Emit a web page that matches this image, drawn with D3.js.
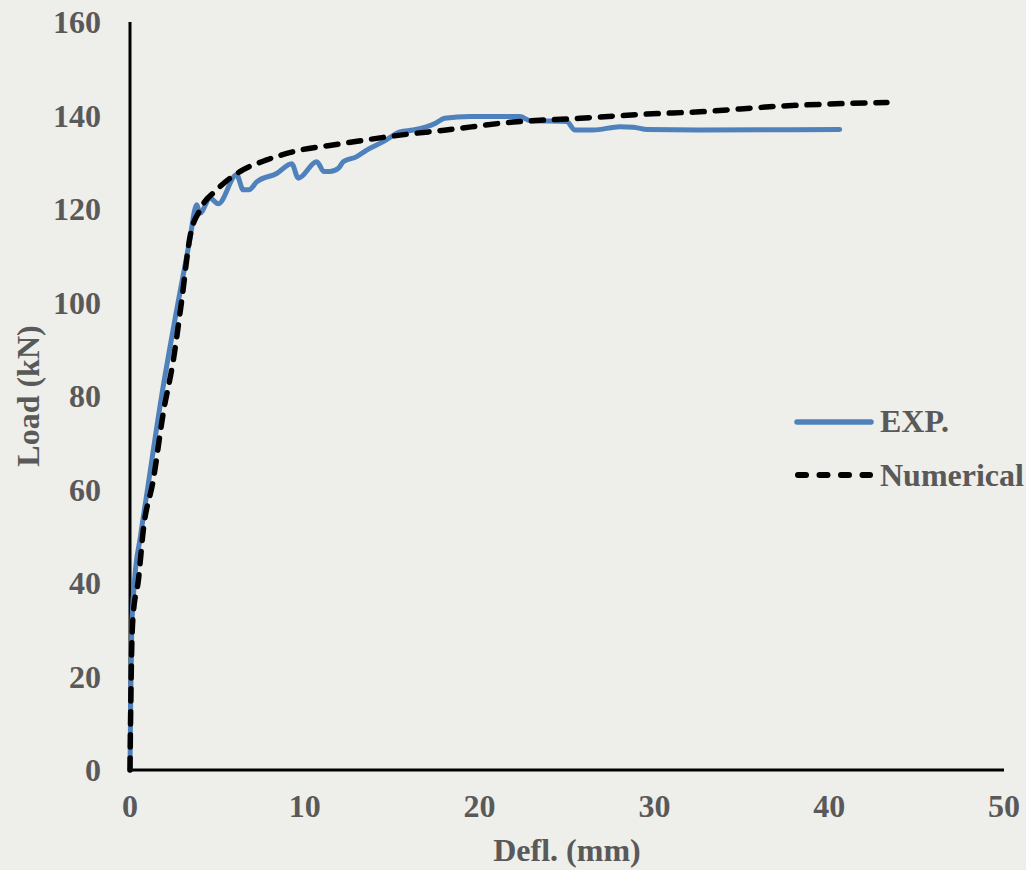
<!DOCTYPE html>
<html>
<head>
<meta charset="utf-8">
<script src="https://cdn.jsdelivr.net/npm/d3@7"></script>
<style>
  html, body { margin: 0; padding: 0; background: #EEEEEA; }
  svg { display: block; }
  text { font-family: "Liberation Serif", "Times New Roman", serif; font-weight: bold; fill: #595959; }
</style>
</head>
<body>
<svg id="chart" width="1026" height="870"></svg>
<script>
// ---- data ----
const xTicks = [0, 10, 20, 30, 40, 50];
const yTicks = [0, 20, 40, 60, 80, 100, 120, 140, 160];
const seriesNames = ["EXP.", "Numerical"];

const expX = [0, 0.04, 0.1, 0.25, 0.6, 1.0, 1.81, 2.75, 3.4, 3.82, 4.0, 4.58, 5.05, 6.1, 6.48, 6.8, 7.25, 8.39, 9.25, 9.63, 10.68, 11.1, 11.44, 11.92, 12.2, 12.97, 13.54, 14.49, 15.45, 16.2, 17.45, 18.0, 19.45, 22.3, 22.9, 24.98, 25.46, 26.5, 28.03, 28.8, 29.6, 32.6, 40.6];
const expY = [0, 15, 30, 40, 50, 60, 80, 100, 113, 120.9, 119.1, 122.3, 121.1, 127.3, 124.1, 124.1, 125.8, 127.6, 129.7, 126.6, 130.1, 128.0, 128.0, 128.7, 130.1, 131.2, 132.6, 134.4, 136.5, 136.9, 138.3, 139.4, 139.8, 139.8, 138.9, 138.7, 136.9, 136.9, 137.6, 137.5, 137.0, 136.9, 137.0];

const numX = [0, 0.03, 0.1, 0.19, 0.48, 0.76, 1.33, 1.9, 2.48, 2.96, 3.43, 4.0, 4.96, 6.29, 7.82, 9.73, 11.6, 13.54, 15.45, 18.1, 21.93, 25.74, 29.56, 32.6, 37.2, 43.3];
const numY = [0, 10, 26.4, 33.5, 40.6, 51.3, 62, 76.3, 87.7, 100.5, 114, 119.8, 124.1, 128, 130.5, 132.6, 133.7, 134.8, 135.8, 136.9, 138.6, 139.4, 140.3, 140.8, 142.0, 142.8];

// ---- chart ----
const svg = d3.select("#chart");
const x = d3.scaleLinear().domain([0, 50]).range([130, 1004]);
const y = d3.scaleLinear().domain([0, 160]).range([770, 22]);

// axis lines
svg.append("line").attr("x1", x(0)).attr("x2", x(0)).attr("y1", y(160)).attr("y2", y(0))
  .attr("stroke", "#000").attr("stroke-width", 3);
svg.append("line").attr("x1", x(0) - 1.5).attr("x2", x(50)).attr("y1", y(0)).attr("y2", y(0))
  .attr("stroke", "#000").attr("stroke-width", 3);

// tick labels
svg.selectAll(".ylab").data(yTicks).enter().append("text")
  .attr("class", "ylab")
  .attr("x", 101).attr("y", d => y(d) + 11)
  .attr("text-anchor", "end").attr("font-size", 32)
  .text(d => d);
svg.selectAll(".xlab").data(xTicks).enter().append("text")
  .attr("class", "xlab")
  .attr("x", d => x(d)).attr("y", 817)
  .attr("text-anchor", "middle").attr("font-size", 32)
  .text(d => d);

// axis titles
svg.append("text").attr("x", 567).attr("y", 861).attr("text-anchor", "middle")
  .attr("font-size", 32).text("Defl. (mm)");
svg.append("text").attr("transform", "translate(39,396) rotate(-90)")
  .attr("text-anchor", "middle").attr("font-size", 32).text("Load (kN)");

// series
const expData = expX.map((v, i) => [v, expY[i]]);
const numData = numX.map((v, i) => [v, numY[i]]);

const lineSmooth = d3.line().x(d => x(d[0])).y(d => y(d[1])).curve(d3.curveMonotoneX);

svg.append("path").datum(expData).attr("d", lineSmooth)
  .attr("fill", "none").attr("stroke", "#4F81BD").attr("stroke-width", 5)
  .attr("stroke-linejoin", "round").attr("stroke-linecap", "round");

svg.append("path").datum(numData).attr("d", lineSmooth)
  .attr("fill", "none").attr("stroke", "#000").attr("stroke-width", 5.5)
  .attr("stroke-dasharray", "12,11").attr("stroke-linecap", "round");

// legend
svg.append("line").attr("x1", 797).attr("x2", 871).attr("y1", 422).attr("y2", 422)
  .attr("stroke", "#4F81BD").attr("stroke-width", 5.5).attr("stroke-linecap", "round");
svg.append("text").attr("x", 880).attr("y", 432).attr("font-size", 32).text(seriesNames[0]);

svg.append("line").attr("x1", 798).attr("x2", 870).attr("y1", 475).attr("y2", 475)
  .attr("stroke", "#000").attr("stroke-width", 6).attr("stroke-dasharray", "8,13.5")
  .attr("stroke-linecap", "round");
svg.append("text").attr("x", 880).attr("y", 486).attr("font-size", 32).text(seriesNames[1]);
</script>
</body>
</html>
